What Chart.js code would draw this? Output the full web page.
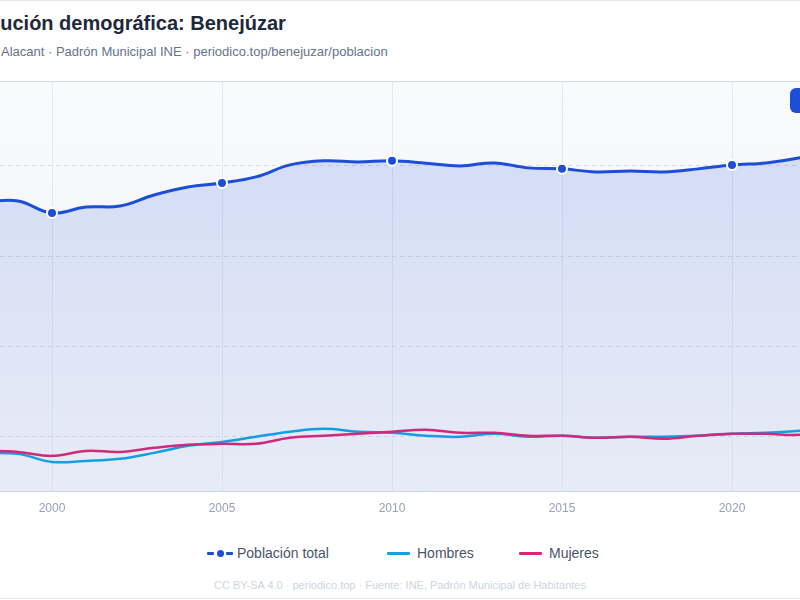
<!DOCTYPE html>
<html>
<head>
<meta charset="utf-8">
<script src="https://cdn.jsdelivr.net/npm/chart.js@4/dist/chart.umd.min.js"></script>
<style>
  html, body { margin: 0; padding: 0; background: #fff; }
  body { width: 800px; height: 600px; overflow: hidden; position: relative; font-family: "Liberation Sans", Arial, sans-serif; }
  .card { position: absolute; left: -93px; top: 0; width: 984px; height: 597px; border: 1px solid #e2e8f0; background: #fff; }
  .title { position: absolute; left: -42px; top: 11px; font-size: 20px; line-height: 24px; font-weight: bold; color: #1e293b; white-space: nowrap; }
  .sub { position: absolute; left: 1px; top: 44px; font-size: 13px; line-height: 16px; color: #64748b; white-space: nowrap; }
  .sub .pre { position: absolute; right: 100%; white-space: pre; }
  .wrap { position: absolute; left: -92px; top: 70px; width: 984px; height: 451px; }
  .badge { position: absolute; left: 790px; top: 88px; height: 25px; width: 84px; border-radius: 6px; background: #1d4ed8; color: #fff; font-size: 12px; font-weight: bold; line-height: 25px; padding-left: 10px; box-sizing: border-box; white-space: nowrap; }
  .legend { position: absolute; top: 544px; left: 0; height: 18px; font-size: 14px; line-height: 18px; color: #475569; }
  .item { position: absolute; top: 0; white-space: nowrap; display: flex; align-items: center; }
  .ico { position: relative; height: 18px; margin-right: 5px; }
  .ico i { position: absolute; top: 8px; height: 3px; border-radius: 1px; }
  .ico b { position: absolute; top: 6px; width: 7px; height: 7px; border-radius: 50%; }
  .foot { position: absolute; left: 0; width: 800px; top: 578px; text-align: center; font-size: 11px; line-height: 14px; color: #cbd5e1; white-space: nowrap; }
</style>
</head>
<body>
<div class="card"></div>
<div class="title">Evolución demográfica: Benejúzar</div>
<div class="sub"><span class="pre">Benejúzar · </span>Alacant · Padrón Municipal INE · periodico.top/benejuzar/poblacion</div>
<div class="wrap"><canvas id="c" width="984" height="451"></canvas></div>
<div class="badge" id="badge"></div>
<div class="legend" id="legend"></div>
<div class="foot">CC BY-SA 4.0 · periodico.top · Fuente: INE, Padrón Municipal de Habitantes</div>

<script>
// years of the Padrón series
const years = [1998, 1999, 2000, 2001, 2002, 2003, 2004, 2005, 2006, 2007, 2008, 2009, 2010,
               2011, 2012, 2013, 2014, 2015, 2016, 2017, 2018, 2019, 2020, 2021, 2022, 2023, 2024];

const total = [5600, 5611, 5478, 5544, 5556, 5678, 5767, 5811, 5878, 6011, 6056, 6044, 6056,
               6030, 6000, 6033, 5978, 5967, 5933, 5944, 5933, 5967, 6011, 6033, 6090, 6180, 6260];

const hombres = [2822, 2811, 2722, 2733, 2756, 2822, 2900, 2944, 3000, 3056, 3089, 3056, 3044,
                 3011, 3000, 3033, 3000, 3011, 2989, 3000, 3000, 3011, 3033, 3044, 3067, 3100, 3140];

const mujeres = [2844, 2833, 2789, 2844, 2833, 2878, 2911, 2922, 2922, 2989, 3011, 3033, 3056,
                 3078, 3044, 3044, 3011, 3011, 2989, 3000, 2978, 3011, 3033, 3033, 3022, 3070, 3110];

const yTicks = [3000, 4000, 5000, 6000];

const seriesNames = ['Población total', 'Hombres', 'Mujeres'];
const colors = ['#1d4ed8', '#14a2e4', '#db2777'];

const fmt = n => n.toLocaleString('es-ES').replace(/,/g, '.');

// plot background + top border
const plotBg = {
  id: 'plotBg',
  beforeDraw(chart) {
    const { ctx, chartArea: a } = chart;
    const g = ctx.createLinearGradient(0, a.top, 0, a.bottom);
    g.addColorStop(0, '#f9fafc');
    g.addColorStop(1, '#eff2f7');
    ctx.save();
    ctx.fillStyle = g;
    ctx.fillRect(a.left, a.top, a.right - a.left, a.bottom - a.top);
    ctx.strokeStyle = '#d3dae4';
    ctx.lineWidth = 1;
    ctx.beginPath();
    ctx.moveTo(a.left, a.top + 0.5);
    ctx.lineTo(a.right, a.top + 0.5);
    ctx.stroke();
    ctx.restore();
  }
};

new Chart(document.getElementById('c'), {
  type: 'line',
  data: {
    labels: years,
    datasets: [
      {
        label: seriesNames[0],
        data: total,
        borderColor: colors[0],
        borderWidth: 3,
        tension: 0.4,
        fill: 'start',
        backgroundColor: ctx => {
          const a = ctx.chart.chartArea;
          if (!a) return 'rgba(29,78,216,0.12)';
          const g = ctx.chart.ctx.createLinearGradient(0, a.top, 0, a.bottom);
          g.addColorStop(0, 'rgba(29,78,216,0.19)');
          g.addColorStop(1, 'rgba(29,78,216,0.04)');
          return g;
        },
        pointRadius: ctx => years[ctx.dataIndex] % 5 === 0 ? 5 : 0,
        pointBackgroundColor: colors[0],
        pointBorderColor: '#fff',
        pointBorderWidth: 2,
        order: 0
      },
      {
        label: seriesNames[1],
        data: hombres,
        borderColor: colors[1],
        borderWidth: 2.5,
        tension: 0.4,
        pointRadius: 0,
        fill: false,
        order: 2
      },
      {
        label: seriesNames[2],
        data: mujeres,
        borderColor: colors[2],
        borderWidth: 2.5,
        tension: 0.4,
        pointRadius: 0,
        fill: false,
        order: 1
      }
    ]
  },
  options: {
    responsive: false,
    animation: false,
    layout: { padding: { left: 0, right: 24, top: 11, bottom: 0 } },
    plugins: { legend: { display: false }, tooltip: { enabled: false } },
    scales: {
      x: {
        grid: {
          drawTicks: false,
          color: ctx => years[ctx.index] % 5 === 0 ? '#e2e8f0' : 'rgba(0,0,0,0)'
        },
        border: { color: '#cbd5e1' },
        ticks: {
          autoSkip: false,
          maxRotation: 0,
          padding: 10,
          color: '#94a3b8',
          font: { size: 12, family: '"Liberation Sans", Arial, sans-serif' },
          callback: (v, i) => years[i] % 5 === 0 ? String(years[i]) : ''
        },
        afterFit: s => { s.height = 30; s.paddingLeft = 0; s.paddingRight = 0; }
      },
      y: {
        min: 2400,
        max: 6940,
        grid: { drawTicks: false, color: '#d5dce6', lineWidth: 1 },
        border: { display: false, dash: [4, 4] },
        ticks: {
          padding: 8,
          color: '#94a3b8',
          font: { size: 12, family: '"Liberation Sans", Arial, sans-serif' },
          callback: v => fmt(v)
        },
        afterBuildTicks: s => { s.ticks = yTicks.map(v => ({ value: v })); },
        afterFit: s => { s.width = 76; s.paddingTop = 0; s.paddingBottom = 0; }
      }
    }
  },
  plugins: [plotBg]
});

// badge with the latest value
document.getElementById('badge').textContent = years[years.length - 1] + ': ' + fmt(total[total.length - 1]);

// legend
const legendPos = [207, 387, 519];
const legend = document.getElementById('legend');
seriesNames.forEach((name, i) => {
  const it = document.createElement('div');
  it.className = 'item';
  it.style.left = legendPos[i] + 'px';
  const ico = document.createElement('span');
  ico.className = 'ico';
  if (i === 0) {
    ico.style.width = '26px';
    ico.style.marginRight = '4px';
    ico.innerHTML = '<i style="left:0;width:7px;background:' + colors[i] + '"></i>' +
                    '<b style="left:9.5px;background:' + colors[i] + '"></b>' +
                    '<i style="left:19px;width:7px;background:' + colors[i] + '"></i>';
  } else {
    ico.style.width = '23px';
    ico.style.marginRight = '7px';
    ico.innerHTML = '<i style="left:0;width:23px;height:2.5px;background:' + colors[i] + '"></i>';
  }
  it.appendChild(ico);
  it.appendChild(document.createTextNode(name));
  legend.appendChild(it);
});
</script>
</body>
</html>
